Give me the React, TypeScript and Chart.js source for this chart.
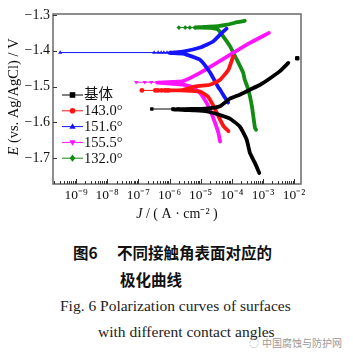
import React, { useEffect, useRef } from 'react';
import { Chart, registerables } from 'chart.js';
Chart.register(...registerables);

// ---------- data ----------
const seriesLabels = ['基体', '143.0°', '151.6°', '155.5°', '132.0°'];
const seriesColors = ['#000000', '#ff1414', '#1414ff', '#ff14ff', '#128c12'];
const seriesMarkers = ['rect', 'circle', 'triangle', 'triangleDown', 'rectRot'];

// main polarization curves: current density J (A/cm2) and potential E (V vs Ag/AgCl)
const baseJ = [7.6e-4, 5.5e-4, 3.8e-4, 3.0e-4, 1.8e-4, 8.7e-5, 4.2e-5, 1.6e-5, 6.6e-6, 3.2e-6, 1.3e-6, 5.0e-6, 1.4e-5, 4.2e-5, 8.7e-5, 1.8e-4, 3.8e-4, 8.1e-4, 1.45e-3, 3.5e-3, 6.5e-3];
const baseE = [-1.742, -1.714, -1.686, -1.649, -1.612, -1.590, -1.580, -1.570, -1.567, -1.566, -1.564, -1.563, -1.562, -1.555, -1.534, -1.523, -1.509, -1.495, -1.481, -1.457, -1.434];
const s143J = [7.8e-5, 5.4e-5, 3.7e-5, 2.6e-5, 1.7e-5, 9.5e-6, 4.6e-6, 2.2e-6, 7.2e-7, 2.5e-6, 7.4e-6, 2.0e-5, 4.2e-5, 7.8e-5, 1.1e-4];
const s143E = [-1.625, -1.611, -1.583, -1.555, -1.528, -1.514, -1.512, -1.511, -1.511, -1.510, -1.499, -1.495, -1.481, -1.453, -1.416];
const s151J = [7.6e-5, 6.0e-5, 4.2e-5, 3.6e-5, 2.0e-5, 9.5e-6, 2.7e-6, 1.0e-6, 2.7e-6, 9.5e-6, 2.5e-5, 4.9e-5, 6.8e-5];
const s151E = [-1.545, -1.531, -1.509, -1.501, -1.461, -1.425, -1.408, -1.406, -1.402, -1.391, -1.374, -1.349, -1.338];
const s155J = [4.2e-5, 3.7e-5, 2.9e-5, 2.2e-5, 1.55e-5, 9.5e-6, 5.6e-6, 2.7e-6, 1.05e-6, 4.0e-7, 1.26e-6, 2.75e-6, 9.5e-6, 3.3e-5, 1.1e-4, 3.8e-4, 1.55e-3];
const s155E = [-1.654, -1.630, -1.602, -1.574, -1.546, -1.518, -1.503, -1.495, -1.492, -1.489, -1.487, -1.485, -1.462, -1.434, -1.406, -1.378, -1.350];
const s132J = [6.0e-4, 5.5e-4, 4.4e-4, 3.4e-4, 2.6e-4, 2.3e-4, 1.45e-4, 8.7e-5, 5.2e-5, 3.6e-5, 2.0e-5, 6.6e-6, 1.26e-5, 3.6e-5, 7.1e-5, 1.5e-4, 2.6e-4];
const s132E = [-1.621, -1.615, -1.555, -1.509, -1.481, -1.461, -1.425, -1.387, -1.359, -1.341, -1.336, -1.335, -1.333, -1.331, -1.327, -1.320, -1.316];

// scattered points near the corrosion potential (thin line with markers)
const baseSpikeJ = [2.7e-7, 1.3e-6, 1.9e-6, 2.5e-6, 3.6e-6];
const baseSpikeE = [-1.563, -1.563, -1.563, -1.564, -1.564];
const s143SpikeJ = [1.3e-7, 3.5e-7, 4.2e-7, 5.5e-7, 7.2e-7, 9.0e-7];
const s143SpikeE = [-1.511, -1.511, -1.511, -1.511, -1.511, -1.511];
const s151SpikeJ = [3.1e-10, 3.2e-7, 4.3e-7, 5.4e-7, 6.6e-7, 8.3e-7, 1.05e-6, 1.4e-6, 1.9e-6];
const s151SpikeE = [-1.405, -1.405, -1.405, -1.405, -1.405, -1.405, -1.405, -1.405, -1.405];
const s155SpikeJ = [8.5e-8, 1.6e-7, 2.6e-7, 4.0e-7];
const s155SpikeE = [-1.488, -1.488, -1.488, -1.488];
const s132SpikeJ = [2.0e-6, 3.2e-6, 4.5e-6, 6.6e-6];
const s132SpikeE = [-1.335, -1.335, -1.335, -1.335];
const baseOutlierJ = [1.26e-2];
const baseOutlierE = [-1.421];

const xTickExponents = [-9, -8, -7, -6, -5, -4, -3, -2];
const yTicks = [-1.7, -1.6, -1.5, -1.4, -1.3];
const xMin = 1.82e-10;
const xMax = 1.66e-2;
const yMin = -1.773;
const yMax = -1.297;

const mainJ = [baseJ, s143J, s151J, s155J, s132J];
const mainE = [baseE, s143E, s151E, s155E, s132E];
const spikeJ = [baseSpikeJ, s143SpikeJ, s151SpikeJ, s155SpikeJ, s132SpikeJ];
const spikeE = [baseSpikeE, s143SpikeE, s151SpikeE, s155SpikeE, s132SpikeE];

const SERIF = '"Liberation Serif", "Times New Roman", "Noto Sans CJK SC", serif';
const SUP: Record<string, string> = { '-': '⁻', '0': '⁰', '1': '¹', '2': '²', '3': '³', '4': '⁴', '5': '⁵', '6': '⁶', '7': '⁷', '8': '⁸', '9': '⁹' };
const sup = (s: string) => s.split('').map((c) => SUP[c] ?? c).join('');

function drawMarker(ctx: CanvasRenderingContext2D, style: string, x: number, y: number, r: number) {
  ctx.beginPath();
  if (style === 'rect') ctx.rect(x - r, y - r, 2 * r, 2 * r);
  else if (style === 'circle') ctx.arc(x, y, r, 0, Math.PI * 2);
  else if (style === 'triangle') {
    ctx.moveTo(x, y - r * 1.2); ctx.lineTo(x + r * 1.1, y + r * 0.8); ctx.lineTo(x - r * 1.1, y + r * 0.8); ctx.closePath();
  } else if (style === 'triangleDown') {
    ctx.moveTo(x, y + r * 1.2); ctx.lineTo(x + r * 1.1, y - r * 0.8); ctx.lineTo(x - r * 1.1, y - r * 0.8); ctx.closePath();
  } else {
    ctx.moveTo(x, y - r * 1.3); ctx.lineTo(x + r, y); ctx.lineTo(x, y + r * 1.3); ctx.lineTo(x - r, y); ctx.closePath();
  }
  ctx.fill();
}

const framePlugin = {
  id: 'frameAndLegend',
  afterDatasetsDraw(chart: any) {
    const { ctx, chartArea: a, scales } = chart;
    ctx.save();
    // frame
    ctx.strokeStyle = '#6a6a6a';
    ctx.lineWidth = 1.5;
    ctx.strokeRect(a.left, a.top, a.right - a.left, a.bottom - a.top);
    // inward ticks
    ctx.strokeStyle = '#333';
    ctx.lineWidth = 1;
    for (let e = -10; e <= -2; e++) {
      for (let m = 1; m <= 9; m++) {
        const v = m * Math.pow(10, e);
        if (v < xMin || v > xMax) continue;
        const px = Math.round(scales.x.getPixelForValue(v)) + 0.5;
        const len = m === 1 ? 5 : 3;
        ctx.beginPath();
        ctx.moveTo(px, a.bottom);
        ctx.lineTo(px, a.bottom - len);
        ctx.stroke();
      }
    }
    yTicks.forEach((v) => {
      const py = Math.round(scales.y.getPixelForValue(v)) + 0.5;
      ctx.beginPath();
      ctx.moveTo(a.left, py);
      ctx.lineTo(a.left + 4, py);
      ctx.stroke();
    });
    // legend
    ctx.font = '14.5px ' + SERIF;
    ctx.textBaseline = 'middle';
    ctx.textAlign = 'left';
    seriesLabels.forEach((lab, i) => {
      const y = a.top + 81 + i * 15.8;
      const x0 = a.left + 9;
      ctx.strokeStyle = seriesColors[i];
      ctx.lineWidth = 1;
      ctx.beginPath();
      ctx.moveTo(x0, y);
      ctx.lineTo(x0 + 21, y);
      ctx.stroke();
      ctx.fillStyle = seriesColors[i];
      drawMarker(ctx, seriesMarkers[i], x0 + 10.5, y, 2.8);
      ctx.fillStyle = '#111';
      ctx.fillText(lab, x0 + 22, y + 0.5);
    });
    // axis titles
    ctx.fillStyle = '#111';
    ctx.textBaseline = 'middle';
    const xt1 = 'J';
    const xt2 = ' / ( A · cm' + sup('-2') + ' )';
    ctx.font = 'italic 14px ' + SERIF;
    const w1 = ctx.measureText(xt1).width;
    ctx.font = '14px ' + SERIF;
    const w2 = ctx.measureText(xt2).width;
    const cx = 177;
    const cy = 214;
    let sx = cx - (w1 + w2) / 2;
    ctx.font = 'italic 14px ' + SERIF;
    ctx.fillText(xt1, sx, cy);
    ctx.font = '14px ' + SERIF;
    ctx.fillText(xt2, sx + w1, cy);

    const yt1 = 'E';
    const yt2 = ' (vs. Ag/AgCl) / V';
    ctx.save();
    ctx.translate(14, (a.top + a.bottom) / 2 - 2);
    ctx.rotate(-Math.PI / 2);
    ctx.font = 'italic 14.5px ' + SERIF;
    const v1 = ctx.measureText(yt1).width;
    ctx.font = '14.5px ' + SERIF;
    const v2 = ctx.measureText(yt2).width;
    sx = -(v1 + v2) / 2;
    ctx.font = 'italic 14.5px ' + SERIF;
    ctx.fillText(yt1, sx, 0);
    ctx.font = '14.5px ' + SERIF;
    ctx.fillText(yt2, sx + v1, 0);
    ctx.restore();
    ctx.restore();
  },
};

export default function App() {
  const ref = useRef<HTMLCanvasElement | null>(null);
  useEffect(() => {
    if (!ref.current) return;
    const datasets: any[] = [];
    for (let i = 0; i < 5; i++) {
      datasets.push({
        label: seriesLabels[i],
        data: mainJ[i].map((j, k) => ({ x: j, y: mainE[i][k] })),
        borderColor: seriesColors[i],
        backgroundColor: seriesColors[i],
        borderWidth: 3.8,
        borderJoinStyle: 'round',
        borderCapStyle: 'round',
        pointRadius: 0,
        tension: 0.15,
        fill: false,
      });
      datasets.push({
        label: seriesLabels[i] + ' Ecorr',
        data: spikeJ[i].map((j, k) => ({ x: j, y: spikeE[i][k] })),
        borderColor: seriesColors[i],
        backgroundColor: seriesColors[i],
        borderWidth: 1,
        pointRadius: 2.4,
        pointStyle: seriesMarkers[i] === 'triangleDown' ? 'triangle' : seriesMarkers[i],
        pointRotation: seriesMarkers[i] === 'triangleDown' ? 180 : 0,
        pointBackgroundColor: seriesColors[i],
        pointBorderColor: seriesColors[i],
        pointBorderWidth: 0,
        tension: 0,
        fill: false,
      });
    }
    datasets.push({
      label: '基体 point',
      data: baseOutlierJ.map((j, k) => ({ x: j, y: baseOutlierE[k] })),
      showLine: false,
      pointRadius: 2.4,
      pointStyle: 'rect',
      pointBackgroundColor: '#000',
      pointBorderColor: '#000',
      borderColor: '#000',
    });

    const chart = new Chart(ref.current, {
      type: 'line',
      data: { datasets },
      options: {
        animation: false,
        responsive: false,
        maintainAspectRatio: false,
        events: [],
        layout: { padding: { left: 0, right: 52, top: 14, bottom: 0 } },
        plugins: { legend: { display: false }, tooltip: { enabled: false }, title: { display: false } },
        scales: {
          x: {
            type: 'logarithmic',
            min: xMin,
            max: xMax,
            grid: { display: false, drawTicks: false },
            border: { display: false },
            afterBuildTicks: (scale: any) => {
              scale.ticks = xTickExponents.map((e) => ({ value: Math.pow(10, e) }));
            },
            afterFit: (scale: any) => { scale.height = 46; },
            ticks: {
              autoSkip: false,
              maxRotation: 0,
              padding: 3,
              color: '#111',
              font: { family: SERIF, size: 13.5 },
              callback: (v: any) => '10' + sup(String(Math.round(Math.log10(Number(v))))),
            },
          },
          y: {
            type: 'linear',
            min: yMin,
            max: yMax,
            grid: { display: false, drawTicks: false },
            border: { display: false },
            afterBuildTicks: (scale: any) => {
              scale.ticks = yTicks.map((v) => ({ value: v }));
            },
            afterFit: (scale: any) => { scale.width = 53; },
            ticks: {
              padding: 3,
              color: '#111',
              font: { family: SERIF, size: 14 },
              callback: (v: any) => (Number(v) < 0 ? '−' : '') + Math.abs(Number(v)).toFixed(1),
            },
          },
        },
      },
      plugins: [framePlugin],
    } as any);
    return () => chart.destroy();
  }, []);

  const cjk = '"Noto Sans CJK SC", sans-serif';
  return (
    <div style={{ position: 'fixed', left: 0, top: 0, width: 353, height: 359, background: '#fff', overflow: 'hidden' }}>
      <canvas ref={ref} width={353} height={230} style={{ position: 'absolute', left: 0, top: 0, width: 353, height: 230 }} />
      <div style={{ position: 'absolute', left: 73, top: 244, fontFamily: cjk, fontWeight: 700, fontSize: 15.5, lineHeight: '16px', color: '#111', whiteSpace: 'nowrap' }}>图6</div>
      <div style={{ position: 'absolute', left: 117, top: 244, fontFamily: cjk, fontWeight: 700, fontSize: 15.5, lineHeight: '16px', color: '#111', whiteSpace: 'nowrap' }}>不同接触角表面对应的</div>
      <div style={{ position: 'absolute', left: 120, top: 271, fontFamily: cjk, fontWeight: 700, fontSize: 15.5, lineHeight: '16px', color: '#111', whiteSpace: 'nowrap' }}>极化曲线</div>
      <div style={{ position: 'absolute', left: 60, top: 297, fontFamily: SERIF, fontSize: 15.5, lineHeight: '17px', color: '#222', whiteSpace: 'nowrap' }}>Fig. 6 Polarization curves of surfaces</div>
      <div style={{ position: 'absolute', left: 98, top: 323, fontFamily: SERIF, fontSize: 15.5, lineHeight: '17px', color: '#222', whiteSpace: 'nowrap' }}>with different contact angles</div>
      <div style={{ position: 'absolute', left: 249, top: 337, fontFamily: cjk, fontSize: 10, lineHeight: '12px', color: '#9a9a9a', whiteSpace: 'nowrap' }}>
        <span style={{ fontSize: 10, marginRight: 3 }}>◌</span>中国腐蚀与防护网
      </div>
    </div>
  );
}
